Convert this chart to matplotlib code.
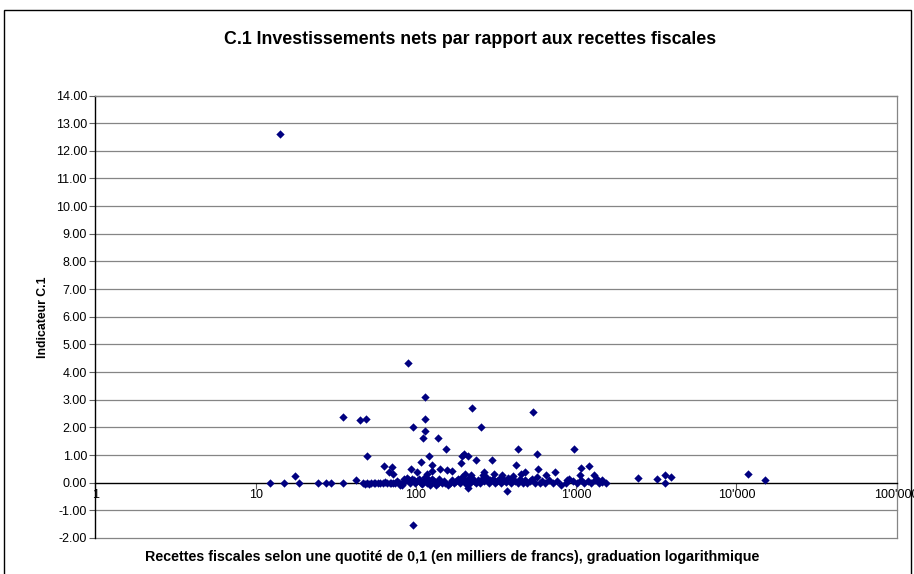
import matplotlib
matplotlib.use("Agg")
import matplotlib.pyplot as plt
from matplotlib.patches import Rectangle
from matplotlib.ticker import NullLocator

plt.rcParams['font.family'] = ['Liberation Sans', 'DejaVu Sans']

# ---- data ----
# notable (non-zero) points
pts_x = [
    14.3, 89, 114, 225, 535, 35, 45, 49, 114, 96,
    255, 114.5, 111, 137, 154, 435, 966, 567, 49.5, 121,
    201, 194, 210, 298, 237, 107, 190, 127, 422, 1208,
    63, 71, 1072, 142, 580, 93, 157, 168, 126, 68,
    102, 738, 72, 118, 202, 220, 263, 1050, 1300, 17.7,
    42.5, 2440, 3215, 3580, 3610, 3880, 11860, 15000, 368, 96,
    82, 134, 211, 1355, 881, 1443, 268, 308, 345, 405,
    450, 482, 650]
pts_y = [
    12.6, 4.33, 3.1, 2.7, 2.54, 2.37, 2.25, 2.31, 2.32, 2.03,
    2.0, 1.88, 1.63, 1.62, 1.21, 1.23, 1.22, 1.03, 0.95, 0.97,
    1.04, 0.95, 0.96, 0.83, 0.81, 0.75, 0.70, 0.65, 0.65, 0.62,
    0.59, 0.55, 0.52, 0.48, 0.48, 0.48, 0.45, 0.41, 0.41, 0.38,
    0.38, 0.38, 0.30, 0.32, 0.33, 0.28, 0.26, 0.26, 0.26, 0.23,
    0.10, 0.16, 0.14, 0.28, 0.0, 0.21, 0.31, 0.09, -0.30, -1.52,
    -0.10, -0.10, -0.20, 0.14, 0.08, 0.08, 0.38, 0.32, 0.26, 0.24,
    0.32, 0.38, 0.26]

# points lying on / close to zero
zero_x = [
    12.3, 15.1, 18.7, 24.5, 27.4, 29.4, 35.3, 46.5, 48.0, 49.5,
    51.0, 52.5, 54.5, 56.0, 58.0, 60.0, 62.0, 64.5, 66.0, 68.5,
    70.0, 72.5, 74.0, 76.0, 78.0, 80.0, 82.5, 84.0, 86.0, 88.0,
    90.5, 92.0, 94.5, 97.0, 99.0, 101, 104, 107, 109, 112,
    114, 117, 120, 123, 126, 129, 133, 137, 140, 145,
    149, 153, 158, 163, 168, 172, 177, 183, 188, 193,
    199, 205, 211, 217, 224, 230, 237, 244, 252, 259,
    267, 275, 284, 292, 301, 311, 321, 331, 342, 353,
    365, 377, 390, 403, 417, 432, 448, 463, 480, 497,
    515, 534, 553, 573, 594, 616, 640, 680, 720, 765,
    810, 860, 905, 955, 1010, 1065, 1120, 1180, 1240, 1310,
    1380, 1460, 1540]
zero_y = [
    0, 0, 0, 0, 0, 0, 0, 0, -0.05, 0,
    -0.06, 0, 0, 0, 0, 0, 0, 0.02, 0, 0,
    0, 0, 0, 0.05, 0, -0.08, 0, 0.12, 0.05, 0.18,
    0.10, 0, 0.15, 0.08, 0, 0.05, 0.12, 0, -0.05, 0.10,
    0.20, 0, 0.08, -0.08, 0.15, 0.05, 0, -0.02, 0.12, 0,
    0.05, 0, -0.08, 0, 0.10, 0, 0.05, 0.15, 0, 0.20,
    0.08, -0.05, 0.12, 0, 0.18, 0.05, 0, 0.10, 0, 0.15,
    0.05, 0.20, 0, 0.08, 0.12, 0, 0.05, 0.15, 0, 0.10,
    0.02, 0.18, 0, 0.10, 0.05, 0, 0.15, 0, 0.08, 0,
    0.05, 0.12, 0, 0.20, 0, 0.05, 0, 0.10, 0, 0.05,
    -0.08, 0, 0.12, 0.05, 0, 0.10, 0, 0.05, 0, 0.08,
    0, 0.02, 0]

x_ticks = [1, 10, 100, 1000, 10000, 100000]
x_tick_labels = ["1", "10", "100", "1'000", "10'000", "100'000"]
y_ticks = list(range(-2, 15))
y_tick_labels = [f"{v:.2f}" for v in y_ticks]

title = "C.1 Investissements nets par rapport aux recettes fiscales"
x_label = "Recettes fiscales selon une quotité de 0,1 (en milliers de francs), graduation logarithmique"
y_label = "Indicateur C.1"

# ---- figure ----
W, H = 914, 574
fig = plt.figure(figsize=(W / 100, H / 100), dpi=100)
fig.patches.append(Rectangle((4 / W, -0.05), (911 - 4) / W, 1 - 10 / H + 0.05,
                             transform=fig.transFigure, fill=False,
                             edgecolor='black', lw=1.0))

left, right = 95.3 / W, 896.7 / W
bottom, top = 1 - 538 / H, 1 - 95.5 / H
ax = fig.add_axes([left, bottom, right - left, top - bottom])
ax.set_xscale('log')
ax.set_xlim(1, 100000)
ax.set_ylim(-2, 14)

grid_c = '#858585'
for yv in y_ticks:
    if yv != 0:
        ax.axhline(yv, color=grid_c, lw=0.9, zorder=1, clip_on=False)

ax.scatter(pts_x + zero_x, pts_y + zero_y, marker='D', s=18,
           color='#000080', linewidths=0, zorder=4)

ax.set_xticks(x_ticks)
ax.set_xticklabels(x_tick_labels)
ax.xaxis.set_minor_locator(NullLocator())
ax.set_yticks(y_ticks)
ax.set_yticklabels(y_tick_labels)

ax.spines['bottom'].set_position(('data', 0))
ax.spines['bottom'].set_color('black')
ax.spines['bottom'].set_linewidth(1.0)
ax.spines['left'].set_color('black')
ax.spines['left'].set_linewidth(1.0)
ax.spines['top'].set_color(grid_c)
ax.spines['right'].set_color(grid_c)
ax.spines['top'].set_linewidth(0.9)
ax.spines['right'].set_linewidth(0.9)

ax.tick_params(axis='x', direction='out', length=4, width=0.8, pad=0.5,
               labelsize=9, color='#606060')
ax.tick_params(axis='y', direction='out', length=4, width=0.8, pad=2,
               labelsize=9, color='#606060')

fig.text(470 / W, 1 - 39 / H, title, ha='center', va='center',
         fontsize=12.8, fontweight='bold')
fig.text(43 / W, 1 - 317 / H, y_label, ha='center', va='center',
         rotation=90, fontsize=8.8, fontweight='bold')
fig.text(452 / W, 1 - 557 / H, x_label, ha='center', va='center',
         fontsize=10.3, fontweight='bold')

fig.savefig('out.png', dpi=100)
